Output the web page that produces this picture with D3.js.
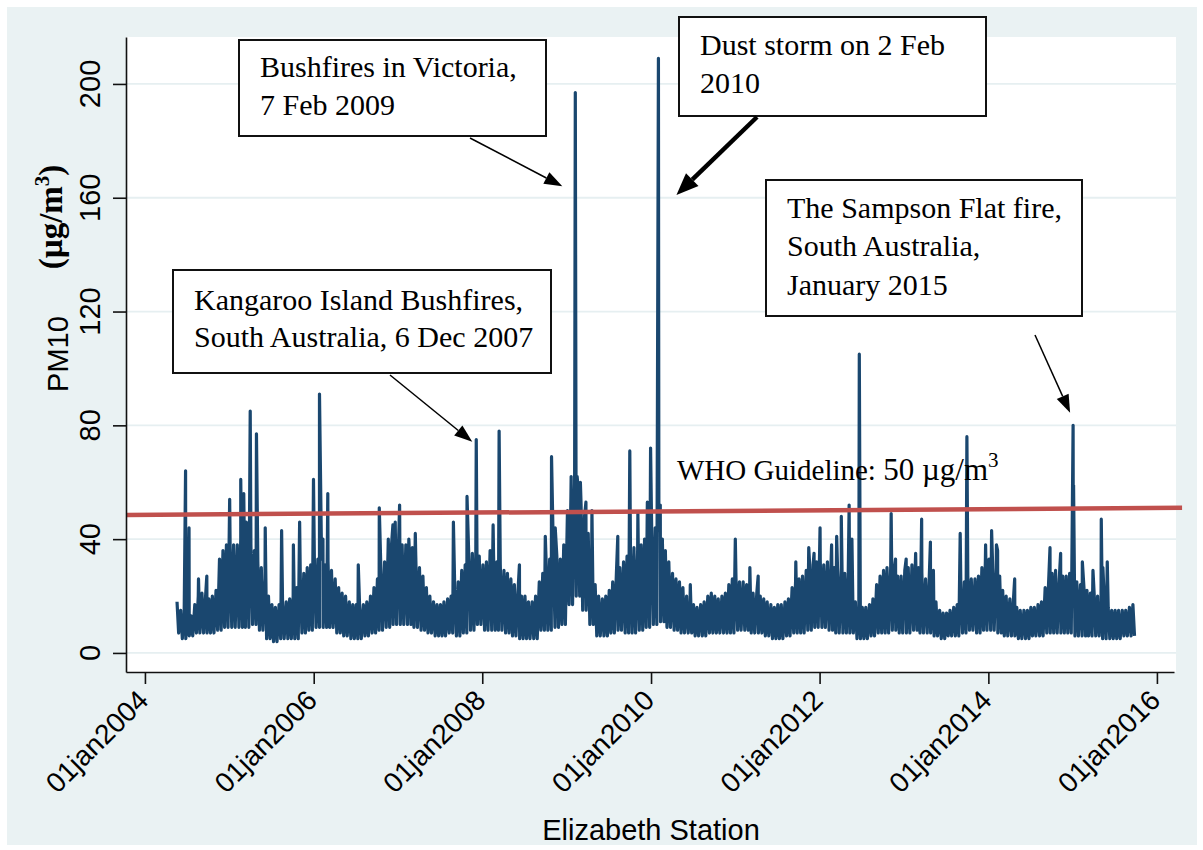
<!DOCTYPE html>
<html lang="en">
<head>
<meta charset="UTF-8">
<title>PM10 - Elizabeth Station</title>
<script src="https://d3js.org/d3.v7.min.js"></script>
<style>
    body { margin: 0; background: #fff; }
    svg { display: block; }
    .sans { font-family: "Liberation Sans", Arial, sans-serif; }
    .serif { font-family: "Liberation Serif", "Times New Roman", serif; }
</style>
</head>
<body>
<svg id="chart" width="1203" height="850"></svg>
<script>
// ---- data ----
// y ticks and x tick years
const yTicks = [0, 40, 80, 120, 160, 200];
const xTickYears = [2004, 2006, 2008, 2010, 2012, 2014, 2016];

// daily PM10 band: upper edge per half month (Jan a, Jan b, Feb a, ...) and lower edge per month
const years = [2004, 2005, 2006, 2007, 2008, 2009, 2010, 2011, 2012, 2013, 2014, 2015];
const hi2004 = [null,null, null,null, null,null, null,null, null,18, 15,14, 14,13, 17,20, 21,19, 19,20, 22,33, 36,38];
const lo2004 = [null, null, null, null, 7, 5, 6, 7, 7, 7, 8, 9];
const hi2005 = [37,38, 38,40, 42,40, 38,36, 32,30, 26,20, 17,16, 17,18, 18,19, 20,23, 26,28, 30,31];
const lo2005 = [9, 9, 9, 10, 8, 5, 4, 5, 5, 5, 7, 8];
const hi2006 = [32,33, 33,31, 32,29, 26,23, 21,20, 18,17, 17,16, 17,18, 20,23, 26,29, 32,36, 38,40];
const lo2006 = [9, 9, 9, 7, 6, 5, 5, 6, 7, 8, 9, 10];
const hi2007 = [40,38, 38,36, 37,34, 30,27, 23,20, 18,17, 17,18, 19,20, 22,25, 29,31, 33,35, 35,34];
const lo2007 = [10, 10, 9, 8, 7, 6, 6, 7, 6, 7, 8, 10];
const hi2008 = [31,32, 36,34, 32,31, 29,28, 26,24, 22,20, 20,18, 18,20, 25,28, 31,33, 35,34, 33,38];
const lo2008 = [8, 8, 8, 7, 6, 5, 5, 5, 8, 8, 9, 10];
const hi2009 = [50,55, 60,58, 52,48, 42,35, 24,20, 19,20, 22,25, 28,30, 32,34, 35,37, 36,38, 40,42];
const lo2009 = [17, 20, 15, 10, 6, 6, 7, 8, 7, 7, 8, 9];
const hi2010 = [42,44, 43,40, 36,32, 28,26, 25,23, 20,18, 17,16, 17,18, 20,21, 20,19, 20,21, 24,26];
const lo2010 = [10, 11, 9, 8, 7, 7, 6, 6, 7, 7, 7, 7];
const hi2011 = [26,25, 25,24, 22,21, 21,20, 19,18, 17,16, 17,17, 18,19, 23,25, 26,27, 29,31, 31,32];
const lo2011 = [8, 8, 7, 7, 6, 5, 5, 6, 7, 7, 8, 9];
const hi2012 = [32,31, 32,30, 30,29, 30,28, 27,24, 18,16, 16,16, 17,19, 24,27, 29,30, 30,29, 27,27];
const lo2012 = [9, 8, 7, 7, 7, 5, 5, 6, 7, 7, 8, 7];
const hi2013 = [29,30, 31,32, 30,28, 26,24, 21,18, 15,14, 14,15, 16,17, 22,25, 27,26, 26,27, 30,32];
const lo2013 = [7, 8, 7, 7, 6, 5, 6, 6, 7, 8, 7, 8];
const hi2014 = [33,32, 30,27, 22,20, 19,18, 16,15, 15,15, 16,16, 17,18, 23,25, 28,29, 26,27, 27,28];
const lo2014 = [8, 7, 6, 6, 5, 5, 6, 6, 7, 7, 7, 7];
const hi2015 = [27,25, 24,23, 22,21, 21,20, 18,17, 16,15, 15,15, 15,15, 16,17, null,null, null,null, null,null];
const lo2015 = [6, 6, 6, 6, 5, 5, 5, 6, 6, null, null, null];
const halfMonthHighs = [hi2004, hi2005, hi2006, hi2007, hi2008, hi2009, hi2010, hi2011, hi2012, hi2013, hi2014, hi2015];
const monthLows = [lo2004, lo2005, lo2006, lo2007, lo2008, lo2009, lo2010, lo2011, lo2012, lo2013, lo2014, lo2015];

// single-day peaks standing out of the band
const spikeDates = [
    "2004-06-25", "2004-07-10", "2004-08-20", "2004-09-25",
    "2005-01-02", "2005-02-19", "2005-03-04", "2005-03-15", "2005-04-01", "2005-04-28", "2005-06-05",
    "2005-08-15", "2005-10-05", "2005-11-01", "2005-12-31",
    "2006-01-26", "2006-02-10", "2006-03-03", "2006-07-13", "2006-10-12", "2006-11-20", "2006-12-10", "2006-12-20",
    "2007-01-08", "2007-02-17", "2007-03-17", "2007-08-29", "2007-10-27", "2007-12-06",
    "2008-02-17", "2008-03-14", "2008-06-10", "2008-09-30", "2008-10-27", "2008-11-12",
    "2009-01-20", "2009-02-07", "2009-02-09", "2009-02-15", "2009-03-01", "2009-03-25", "2009-04-20",
    "2009-08-10", "2009-10-01", "2009-11-05", "2009-12-16", "2009-12-30",
    "2010-02-02", "2010-02-03", "2010-02-10", "2010-06-20",
    "2011-01-01", "2011-03-05", "2011-04-10", "2011-09-20", "2011-11-15", "2011-12-08",
    "2012-01-03", "2012-02-22", "2012-03-15", "2012-04-04", "2012-05-08", "2012-05-20", "2012-06-21",
    "2012-11-06", "2012-11-25", "2013-01-10", "2013-02-20", "2013-03-18", "2013-04-25", "2013-05-08",
    "2013-09-01", "2013-09-30", "2013-12-20", "2014-01-15", "2014-02-05", "2014-02-10", "2014-04-25",
    "2014-09-25", "2014-11-10", "2015-01-03", "2015-01-05", "2015-02-12", "2015-03-30",
    "2015-05-05", "2015-05-12", "2015-05-31"
];
const spikeValues = [
    64, 44, 26, 27,
    54, 61, 56, 46, 85, 77, 44,
    43, 38, 46, 61,
    91, 40, 56, 31, 51, 40, 45, 46,
    52, 40, 42, 46, 55, 75,
    45, 78, 31, 41, 69, 44,
    62, 197, 110, 62, 60, 53, 50,
    41, 71, 49, 53, 72,
    209, 117, 52, 24,
    40, 30, 27, 32, 37, 35,
    44, 38, 41, 48, 52, 40, 105,
    49, 33, 33, 35, 47, 39, 29,
    42, 76, 38, 43, 38, 36, 26,
    37, 35, 80, 59, 32, 29,
    47, 30, 32
];

// WHO guideline line as drawn (slightly tilted in the original)
const whoDates = ["2003-10-11", "2016-04-19"];
const whoValues = [48.5, 51];

// ---- chart ----
const svg = d3.select("#chart");
const parse = d3.timeParse("%Y-%m-%d");
const plot = { left: 126, right: 1176, top: 37, bottom: 672 };

const x = d3.scaleTime()
    .domain([new Date(2003, 9, 11), new Date(2016, 2, 15)])
    .range([126, 1174]);
const y = d3.scaleLinear()
    .domain([-6.7, 216.5])
    .range([plot.bottom, plot.top]);

// build the series
const series = [];
years.forEach((yr, i) => {
    const hi = halfMonthHighs[i], lo = monthLows[i];
    hi.forEach((v, h) => {
        if (v == null) return;
        const m = Math.floor(h / 2), second = h % 2 === 1;
        series.push({ date: new Date(yr, m, second ? 19 : 4), value: v });
        series.push({ date: new Date(yr, m, second ? 26 : 11), value: lo[m] });
    });
});
spikeDates.forEach((d, i) => series.push({ date: parse(d), value: spikeValues[i] }));
series.sort((a, b) => a.date - b.date);

// background
svg.append("rect").attr("x", 7).attr("y", 7).attr("width", 1190).attr("height", 838).attr("fill", "#eaf2f3");
svg.append("rect")
    .attr("x", plot.left).attr("y", plot.top)
    .attr("width", plot.right - plot.left).attr("height", plot.bottom - plot.top)
    .attr("fill", "#fff");

// grid
svg.append("g").selectAll("line")
    .data(yTicks)
    .join("line")
    .attr("x1", plot.left).attr("x2", plot.right)
    .attr("y1", d => y(d)).attr("y2", d => y(d))
    .attr("stroke", "#e6eff1").attr("stroke-width", 1.8);

// series
const line = d3.line().x(d => x(d.date)).y(d => y(d.value));
svg.append("path")
    .datum(series)
    .attr("d", line)
    .attr("fill", "none")
    .attr("stroke", "#1a476f")
    .attr("stroke-width", 3.2)
    .attr("stroke-linejoin", "round");

// WHO line
const who = whoDates.map((d, i) => ({ date: parse(d), value: whoValues[i] }));
svg.append("path")
    .datum(who)
    .attr("d", line)
    .attr("stroke", "#c0504d")
    .attr("stroke-width", 4.5)
    .attr("fill", "none");

// axes
const yAxis = svg.append("g")
    .attr("transform", `translate(${plot.left},0)`)
    .call(d3.axisLeft(y).tickValues(yTicks).tickSize(13).tickSizeOuter(0).tickFormat(""));
const xAxis = svg.append("g")
    .attr("transform", `translate(0,${plot.bottom})`)
    .call(d3.axisBottom(x).tickValues(xTickYears.map(yr => new Date(yr, 0, 1))).tickSize(12).tickSizeOuter(0).tickFormat(""));
[yAxis, xAxis].forEach(a => {
    a.select(".domain").attr("stroke", "#111").attr("stroke-width", 1.6);
    a.selectAll(".tick line").attr("stroke", "#111").attr("stroke-width", 1.6);
});

// tick labels
svg.append("g").selectAll("text")
    .data(yTicks)
    .join("text")
    .attr("class", "sans")
    .attr("transform", d => `translate(100,${y(d)}) rotate(-90)`)
    .attr("text-anchor", "middle")
    .attr("font-size", 29)
    .attr("fill", "#000")
    .text(d => d);

svg.append("g").selectAll("text")
    .data(xTickYears)
    .join("text")
    .attr("class", "sans")
    .attr("transform", d => `translate(${x(new Date(d, 0, 1)) + 5},${plot.bottom + 30}) rotate(-45)`)
    .attr("text-anchor", "end")
    .attr("font-size", 28)
    .attr("fill", "#000")
    .text(d => "01jan" + d);

// axis titles
svg.append("text")
    .attr("class", "sans")
    .attr("x", (plot.left + plot.right) / 2).attr("y", 840)
    .attr("text-anchor", "middle")
    .attr("font-size", 29)
    .text("Elizabeth Station");

svg.append("text")
    .attr("class", "sans")
    .attr("transform", "translate(68,354) rotate(-90)")
    .attr("text-anchor", "middle")
    .attr("font-size", 29)
    .text("PM10");

const unit = svg.append("text")
    .attr("class", "serif")
    .attr("transform", "translate(62,217) rotate(-90)")
    .attr("text-anchor", "middle")
    .attr("font-size", 33)
    .attr("font-weight", "bold");
unit.append("tspan").text("(µg/m");
unit.append("tspan").attr("font-size", 21).attr("dy", -13).text("3");
unit.append("tspan").attr("dy", 13).text(")");

// WHO label
const whoLabel = svg.append("text")
    .attr("class", "serif")
    .attr("x", 677).attr("y", 480)
    .attr("font-size", 29);
whoLabel.append("tspan").text("WHO Guideline: ");
whoLabel.append("tspan").attr("font-size", 31).text("50 µg/m");
whoLabel.append("tspan").attr("font-size", 21).attr("dy", -13).text("3");

// annotations: box [x, y, w, h], text baselines, arrow start, event date + value at arrow tip
const notes = [
    { lines: ["Bushfires in Victoria,", "7 Feb 2009"], box: [239, 40, 307, 96], tx: 260, base: [77, 115],
      from: [470, 138], event: "2009-02-07", tip: 164, dx: -13, heavy: false },
    { lines: ["Dust storm on 2 Feb", "2010"], box: [679, 17, 307, 99], tx: 700, base: [55, 93],
      from: [757, 117], event: "2010-02-02", tip: 161, dx: 18, heavy: true },
    { lines: ["The Sampson Flat fire,", "South Australia,", "January 2015"], box: [766, 180, 316, 136], tx: 787, base: [218, 256, 295],
      from: [1035, 335], event: "2015-01-03", tip: 84.4, dx: -3, heavy: false },
    { lines: ["Kangaroo Island Bushfires,", "South Australia, 6 Dec 2007"], box: [173, 270, 378, 103], tx: 194, base: [310, 347],
      from: [390, 375], event: "2007-12-06", tip: 74.2, dx: -4, heavy: false }
];

notes.forEach(n => {
    const g = svg.append("g");
    g.append("rect")
        .attr("x", n.box[0]).attr("y", n.box[1])
        .attr("width", n.box[2]).attr("height", n.box[3])
        .attr("fill", "#fff").attr("stroke", "#111").attr("stroke-width", 2);
    n.lines.forEach((t, i) => {
        g.append("text")
            .attr("class", "serif")
            .attr("x", n.tx).attr("y", n.base[i])
            .attr("font-size", 30)
            .text(t);
    });

    // arrow
    const tx = x(parse(n.event)) + n.dx, ty = y(n.tip);
    const [fx, fy] = n.from;
    const len = Math.hypot(tx - fx, ty - fy);
    const ux = (tx - fx) / len, uy = (ty - fy) / len;
    const headL = n.heavy ? 22 : 18, headW = n.heavy ? 18 : 13;
    const bx = tx - ux * headL, by = ty - uy * headL;
    g.append("line")
        .attr("x1", fx).attr("y1", fy).attr("x2", bx).attr("y2", by)
        .attr("stroke", "#000").attr("stroke-width", n.heavy ? 4.5 : 1.5);
    g.append("polygon")
        .attr("points", [
            [tx, ty],
            [bx - uy * headW / 2, by + ux * headW / 2],
            [bx + uy * headW / 2, by - ux * headW / 2]
        ].map(p => p.join(",")).join(" "))
        .attr("fill", "#000");
});
</script>
</body>
</html>
